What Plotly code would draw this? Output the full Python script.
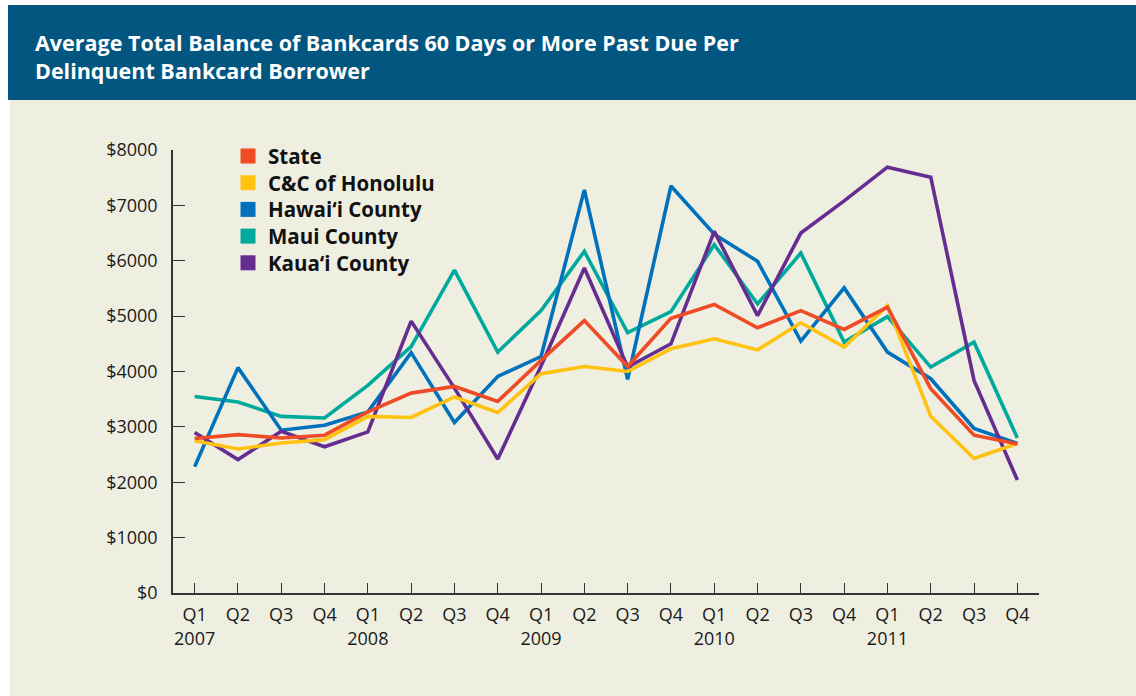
import plotly.graph_objects as go

# ---------------- data ----------------
quarters = ["Q1<br>2007", "Q2", "Q3", "Q4",
            "Q1<br>2008", "Q2", "Q3", "Q4",
            "Q1<br>2009", "Q2", "Q3", "Q4",
            "Q1<br>2010", "Q2", "Q3", "Q4",
            "Q1<br>2011", "Q2", "Q3", "Q4"]

state = [2790, 2860, 2800, 2850, 3270, 3610, 3730, 3460, 4200, 4920,
         4090, 4960, 5210, 4790, 5100, 4760, 5160, 3690, 2850, 2690]
honolulu = [2750, 2600, 2710, 2770, 3190, 3170, 3540, 3260, 3960, 4090,
            4000, 4410, 4590, 4390, 4880, 4440, 5190, 3190, 2430, 2700]
hawaii = [2280, 4070, 2940, 3030, 3270, 4340, 3080, 3910, 4270, 7280,
          3860, 7350, 6480, 5990, 4550, 5510, 4350, 3870, 2970, 2700]
maui = [3550, 3450, 3190, 3160, 3750, 4450, 5830, 4350, 5100, 6170,
        4700, 5080, 6290, 5220, 6140, 4530, 4990, 4080, 4530, 2800]
kauai = [2900, 2410, 2920, 2640, 2910, 4910, 3700, 2420, 4100, 5870,
         4080, 4500, 6530, 5010, 6500, 7080, 7690, 7510, 3840, 2040]

y_ticks = [0, 1000, 2000, 3000, 4000, 5000, 6000, 7000, 8000]
y_tick_labels = ["$0", "$1000", "$2000", "$3000", "$4000",
                 "$5000", "$6000", "$7000", "$8000"]

series_names = ["State", "C&C of Honolulu", "Hawai\u2018i County",
                "Maui County", "Kaua\u2018i County"]
series_values = [state, honolulu, hawaii, maui, kauai]
series_colors = ["#EE4B26", "#FFC20E", "#0071BC", "#00A99D", "#662D91"]

title_text = ("Average Total Balance of Bankcards 60 Days or More Past Due Per"
              "<br>Delinquent Bankcard Borrower")

# ---------------- layout geometry ----------------
W, H = 1136, 696
L, R, T, B = 173, 97, 150, 103
PW, PH = W - L - R, H - T - B


def px(x):
    return (x - L) / PW


def py(y):
    return (H - B - y) / PH


fig = go.Figure()

# draw order: Maui, Hawaii, Kauai, Honolulu, State (State on top)
draw_order = [3, 2, 4, 1, 0]
xs = list(range(len(quarters)))
for i in draw_order:
    fig.add_trace(go.Scatter(
        x=xs, y=series_values[i], mode="lines", name=series_names[i],
        line=dict(color=series_colors[i], width=3.6),
        showlegend=False, hoverinfo="x+y+name"))

shapes = [
    # beige panel
    dict(type="rect", xref="paper", yref="paper", layer="below",
         x0=px(10), x1=px(1136), y0=py(696), y1=py(100),
         fillcolor="#EFEFE1", line=dict(width=0)),
    # title banner
    dict(type="rect", xref="paper", yref="paper", layer="below",
         x0=px(8), x1=px(1136), y0=py(100), y1=py(5),
         fillcolor="#02567F", line=dict(width=0)),
]

annotations = [
    dict(text=title_text, xref="paper", yref="paper",
         x=px(33), y=py(26), xanchor="left", yanchor="top",
         align="left", showarrow=False,
         font=dict(family="Open Sans", size=21.5, color="white", weight="bold")),
]

# legend (manual, square swatches)
leg_x_sq, leg_x_text, leg_y0, leg_dy, sq = 248, 266, 156, 26.7, 15
for k, (nm, col) in enumerate(zip(series_names, series_colors)):
    yc = leg_y0 + k * leg_dy
    shapes.append(dict(type="rect", xref="paper", yref="paper",
                       x0=px(leg_x_sq - sq / 2), x1=px(leg_x_sq + sq / 2),
                       y0=py(yc + sq / 2), y1=py(yc - sq / 2),
                       fillcolor=col, line=dict(width=0)))
    annotations.append(dict(text=nm, xref="paper", yref="paper",
                            x=px(leg_x_text), y=py(yc), xanchor="left",
                            yanchor="middle", showarrow=False,
                            font=dict(family="Open Sans", size=20.5,
                                      color="#111111", weight="bold")))

axis_color = "#333333"
fig.update_layout(
    width=W, height=H,
    margin=dict(l=L, r=R, t=T, b=B, pad=0),
    paper_bgcolor="white",
    plot_bgcolor="rgba(0,0,0,0)",
    shapes=shapes,
    annotations=annotations,
    showlegend=False,
    xaxis=dict(
        range=[-0.5, 19.5], tickvals=xs, ticktext=quarters,
        showline=True, linecolor=axis_color, linewidth=1.5,
        ticks="inside", ticklen=10, tickcolor=axis_color, tickwidth=1.3,
        ticklabelstandoff=5,
        showgrid=False, zeroline=False, fixedrange=True,
        tickfont=dict(family="Open Sans", size=18, color="#1a1a1a"),
    ),
    yaxis=dict(
        range=[0, 8000], tickvals=y_ticks, ticktext=y_tick_labels,
        showline=True, linecolor=axis_color, linewidth=1.5,
        ticks="inside", ticklen=12, tickcolor=axis_color, tickwidth=1.3,
        ticklabelstandoff=10,
        showgrid=False, zeroline=False, fixedrange=True,
        tickfont=dict(family="Open Sans", size=18, color="#1a1a1a"),
    ),
)

fig.write_html("out.html",
               config={"displayModeBar": False},
               post_script="document.body.style.margin='0px';"
                           "document.body.style.overflow='hidden';")
